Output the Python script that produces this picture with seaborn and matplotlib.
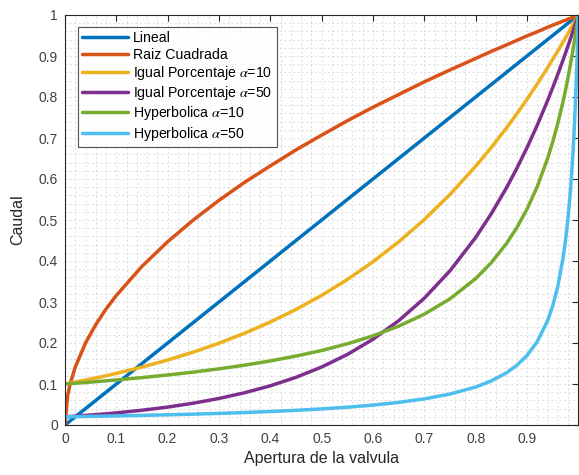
import matplotlib
matplotlib.use("Agg")
import matplotlib.pyplot as plt
import seaborn as sns
import pandas as pd
from matplotlib.ticker import MultipleLocator

# Valve opening (x) sample points
apertura = [0, 0.005, 0.01, 0.02, 0.04, 0.06, 0.08, 0.1, 0.15, 0.2, 0.25, 0.3, 0.35,
            0.4, 0.45, 0.5, 0.55, 0.6, 0.65, 0.7, 0.75, 0.8, 0.83, 0.86, 0.88, 0.9,
            0.92, 0.94, 0.95, 0.96, 0.97, 0.975, 0.98, 0.985, 0.99, 0.993, 0.996,
            0.998, 1.0]

lineal = list(apertura)
raiz = [0, 0.0707, 0.1, 0.1414, 0.2, 0.245, 0.283, 0.316, 0.387, 0.447, 0.5, 0.548,
        0.592, 0.632, 0.671, 0.707, 0.742, 0.775, 0.806, 0.837, 0.866, 0.894, 0.911,
        0.927, 0.938, 0.949, 0.959, 0.970, 0.975, 0.980, 0.985, 0.987, 0.990, 0.992,
        0.995, 0.9965, 0.998, 0.999, 1.0]
igual10 = [0.1, 0.1012, 0.1023, 0.1047, 0.1096, 0.1148, 0.1202, 0.1259, 0.1413, 0.1585,
           0.1778, 0.1995, 0.2239, 0.2512, 0.2818, 0.3162, 0.3548, 0.3981, 0.4467,
           0.5012, 0.5623, 0.6310, 0.6761, 0.7244, 0.7586, 0.7943, 0.8318, 0.8710,
           0.8913, 0.9120, 0.9333, 0.9441, 0.9550, 0.9661, 0.9772, 0.9840, 0.9908,
           0.9954, 1.0]
igual50 = [0.02, 0.0204, 0.0208, 0.0216, 0.0234, 0.0253, 0.0273, 0.0296, 0.0360, 0.0437,
           0.0532, 0.0647, 0.0787, 0.0956, 0.1163, 0.1414, 0.1720, 0.2091, 0.2543,
           0.3093, 0.3761, 0.4573, 0.5143, 0.5783, 0.6254, 0.6762, 0.7312, 0.7908,
           0.8223, 0.8551, 0.8893, 0.9068, 0.9247, 0.9430, 0.9616, 0.9730, 0.9845,
           0.9922, 1.0]
hyper10 = [0.1, 0.1005, 0.1009, 0.1018, 0.1037, 0.1057, 0.1078, 0.1099, 0.1156, 0.1220,
           0.1290, 0.1370, 0.1460, 0.1563, 0.1681, 0.1818, 0.1980, 0.2174, 0.2410,
           0.2703, 0.3077, 0.3571, 0.3953, 0.4425, 0.4808, 0.5263, 0.5814, 0.6494,
           0.6897, 0.7353, 0.7874, 0.8163, 0.8475, 0.8811, 0.9174, 0.9407, 0.9653,
           0.9823, 1.0]
hyper50 = [0.02, 0.0201, 0.0202, 0.0204, 0.0208, 0.0213, 0.0217, 0.0222, 0.0235, 0.0249,
           0.0265, 0.0283, 0.0304, 0.0329, 0.0358, 0.0392, 0.0434, 0.0485, 0.0551,
           0.0637, 0.0755, 0.0926, 0.1072, 0.1272, 0.1453, 0.1695, 0.2033, 0.2538,
           0.2899, 0.3378, 0.4049, 0.4494, 0.5051, 0.5764, 0.6711, 0.7446, 0.8361,
           0.9107, 1.0]

series_names = ["Lineal", "Raiz Cuadrada", r"Igual Porcentaje $\alpha$=10",
                r"Igual Porcentaje $\alpha$=50", r"Hyperbolica $\alpha$=10",
                r"Hyperbolica $\alpha$=50"]
series_values = [lineal, raiz, igual10, igual50, hyper10, hyper50]
colors = ["#0072BD", "#D95319", "#EDB120", "#7E2F8E", "#77AC30", "#4DBEEE"]

rows = []
for name, vals in zip(series_names, series_values):
    for x, y in zip(apertura, vals):
        rows.append({"Apertura": x, "Caudal": y, "Serie": name})
df = pd.DataFrame(rows)

sns.set_style("white")
plt.rcParams["font.family"] = ["Liberation Sans", "DejaVu Sans"]
plt.rcParams["mathtext.fontset"] = "stix"

fig = plt.figure(figsize=(5.79, 4.75), dpi=100)
ax = fig.add_axes([65 / 579, 50 / 475, (578.3 - 65) / 579, 410 / 475])

sns.lineplot(data=df, x="Apertura", y="Caudal", hue="Serie", hue_order=series_names,
             palette=colors, linewidth=2.5, ax=ax, sort=False, estimator=None)

ax.set_xlim(0, 1)
ax.set_ylim(0, 1)
ax.xaxis.set_minor_locator(MultipleLocator(0.02))
ax.yaxis.set_minor_locator(MultipleLocator(0.02))
ax.set_xticks([0, 0.1, 0.2, 0.3, 0.4, 0.5, 0.6, 0.7, 0.8, 0.9])
ax.set_xticklabels(["0", "0.1", "0.2", "0.3", "0.4", "0.5", "0.6", "0.7", "0.8", "0.9"])
ax.set_yticks([0, 0.1, 0.2, 0.3, 0.4, 0.5, 0.6, 0.7, 0.8, 0.9, 1.0])
ax.set_yticklabels(["0", "0.1", "0.2", "0.3", "0.4", "0.5", "0.6", "0.7", "0.8", "0.9", "1"])

ax.grid(which="both", linestyle=(0, (2, 2.5)), color="#dcdcdc", linewidth=0.7)
ax.set_axisbelow(True)
ax.tick_params(which="major", direction="in", length=4, width=0.8, color="#262626",
               labelcolor="#404040", labelsize=10, top=True, right=True, pad=5)
ax.tick_params(which="minor", length=0, top=True, right=True)
for sp in ax.spines.values():
    sp.set_color("#262626")
    sp.set_linewidth(0.8)

ax.set_xlabel("Apertura de la valvula", fontsize=11.5, color="#262626", labelpad=4)
ax.set_ylabel("Caudal", fontsize=11.5, color="#262626", labelpad=10)

leg = ax.legend(loc="upper left", bbox_to_anchor=(13 / 513.3, 1 - 12 / 410), fontsize=10.2,
                frameon=True, fancybox=False, handlelength=3.2, handletextpad=0.4,
                borderpad=0.3, labelspacing=0.16, borderaxespad=0)
leg.get_frame().set_edgecolor("#262626")
leg.get_frame().set_linewidth(0.8)
for line in leg.get_lines():
    line.set_linewidth(2.5)
for t in leg.get_texts():
    t.set_color("#000000")

fig.savefig("out.png", dpi=100)
